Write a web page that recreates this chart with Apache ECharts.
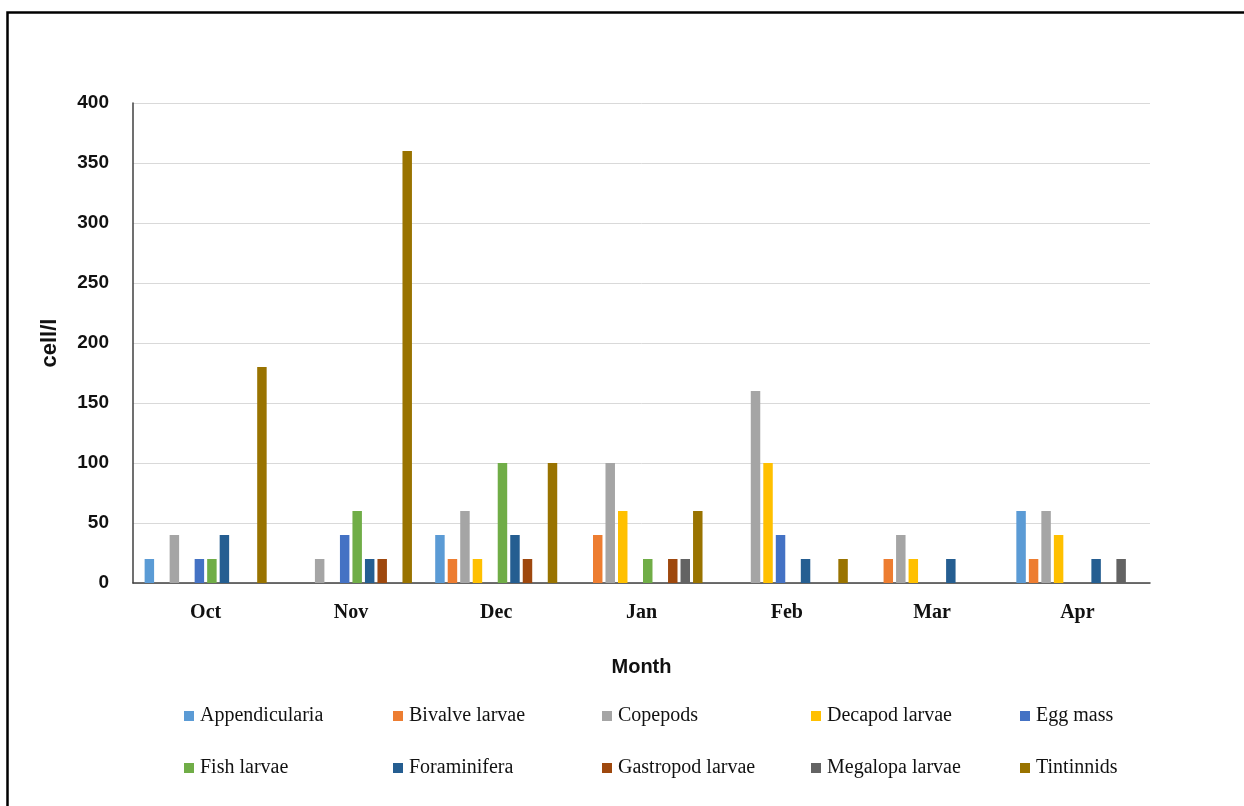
<!DOCTYPE html>
<html>
<head>
<meta charset="utf-8">
<script src="https://cdn.jsdelivr.net/npm/echarts@6/dist/echarts.min.js"></script>
<style>
  html, body { margin: 0; padding: 0; background: #fff; }
  #chart { width: 1244px; height: 806px; }
</style>
</head>
<body>
<div id="chart"></div>
<script>
// Monthly zooplankton counts (cell/l)
const months = ['Oct', 'Nov', 'Dec', 'Jan', 'Feb', 'Mar', 'Apr'];
const yTicks = [0, 50, 100, 150, 200, 250, 300, 350, 400];

const appendicularia = [20, 0, 40, 0, 0, 0, 60];
const bivalveLarvae  = [0, 0, 20, 40, 0, 20, 20];
const copepods       = [40, 20, 60, 100, 160, 40, 60];
const decapodLarvae  = [0, 0, 20, 60, 100, 20, 40];
const eggMass        = [20, 40, 0, 0, 40, 0, 0];
const fishLarvae     = [20, 60, 100, 20, 0, 0, 0];
const foraminifera   = [40, 20, 40, 0, 20, 20, 20];
const gastropodLarvae= [0, 20, 20, 20, 0, 0, 0];
const megalopaLarvae = [0, 0, 0, 20, 0, 0, 20];
const tintinnids     = [180, 360, 100, 60, 20, 0, 0];

const seriesDefs = [
  ['Appendicularia', appendicularia, '#5b9bd5'],
  ['Bivalve larvae', bivalveLarvae, '#ed7d31'],
  ['Copepods', copepods, '#a5a5a5'],
  ['Decapod larvae', decapodLarvae, '#ffc000'],
  ['Egg mass', eggMass, '#4472c4'],
  ['Fish larvae', fishLarvae, '#70ad47'],
  ['Foraminifera', foraminifera, '#255e91'],
  ['Gastropod larvae', gastropodLarvae, '#9e480e'],
  ['Megalopa larvae', megalopaLarvae, '#636363'],
  ['Tintinnids', tintinnids, '#997300']
];

// Legend laid out as a fixed 5-column grid, one legend component per entry
const legendColumns = 5;
const legendLeft = 184, legendColStep = 209;
const legendTops = [706, 758];
const legends = seriesDefs.map(([name], i) => ({
  data: [name],
  left: legendLeft + (i % legendColumns) * legendColStep,
  top: legendTops[Math.floor(i / legendColumns)],
  itemWidth: 10, itemHeight: 10, itemGap: 0,
  icon: 'rect',
  padding: 0,
  textStyle: { fontFamily: '"Liberation Serif", "Times New Roman", serif', fontSize: 20, color: '#111', padding: [0, 0, 0, 1] },
  selectedMode: false
}));

const chart = echarts.init(document.getElementById('chart'), null, { renderer: 'canvas' });
chart.setOption({
  backgroundColor: '#fff',
  animation: false,
  graphic: [{
    type: 'rect',
    shape: { x: 7.5, y: 12.5, width: 1300, height: 900 },
    style: { fill: 'none', stroke: '#000', lineWidth: 2.5 },
    silent: true
  }],
  legend: legends,
  grid: { left: 133, right: 94, top: 103, bottom: 223, containLabel: false },
  xAxis: {
    type: 'category',
    data: months,
    name: 'Month',
    nameLocation: 'middle',
    nameGap: 74,
    nameTextStyle: { fontFamily: 'Arial, "Liberation Sans", sans-serif', fontWeight: 'bold', fontSize: 20, color: '#111' },
    axisLine: { lineStyle: { color: '#404040', width: 1.5 } },
    axisTick: { show: false },
    axisLabel: { margin: 20, fontFamily: '"Liberation Serif", "Times New Roman", serif', fontWeight: 'bold', fontSize: 20, color: '#111' }
  },
  yAxis: {
    type: 'value',
    min: yTicks[0], max: yTicks[yTicks.length - 1], interval: 50,
    name: 'cell/l',
    nameLocation: 'middle',
    nameGap: 72,
    nameRotate: 90,
    nameTextStyle: { fontFamily: 'Arial, "Liberation Sans", sans-serif', fontWeight: 'bold', fontSize: 22, color: '#111' },
    axisLine: { show: true, lineStyle: { color: '#404040', width: 1.5 } },
    axisTick: { show: false },
    splitLine: { lineStyle: { color: '#d9d9d9', width: 1 } },
    axisLabel: { margin: 24, fontFamily: 'Arial, "Liberation Sans", sans-serif', fontWeight: 'bold', fontSize: 19, color: '#111' }
  },
  series: seriesDefs.map(([name, data, color]) => ({
    name, type: 'bar', data,
    itemStyle: { color, borderWidth: 0 },
    barGap: '32%',
    barCategoryGap: '16%'
  }))
});
</script>
</body>
</html>
